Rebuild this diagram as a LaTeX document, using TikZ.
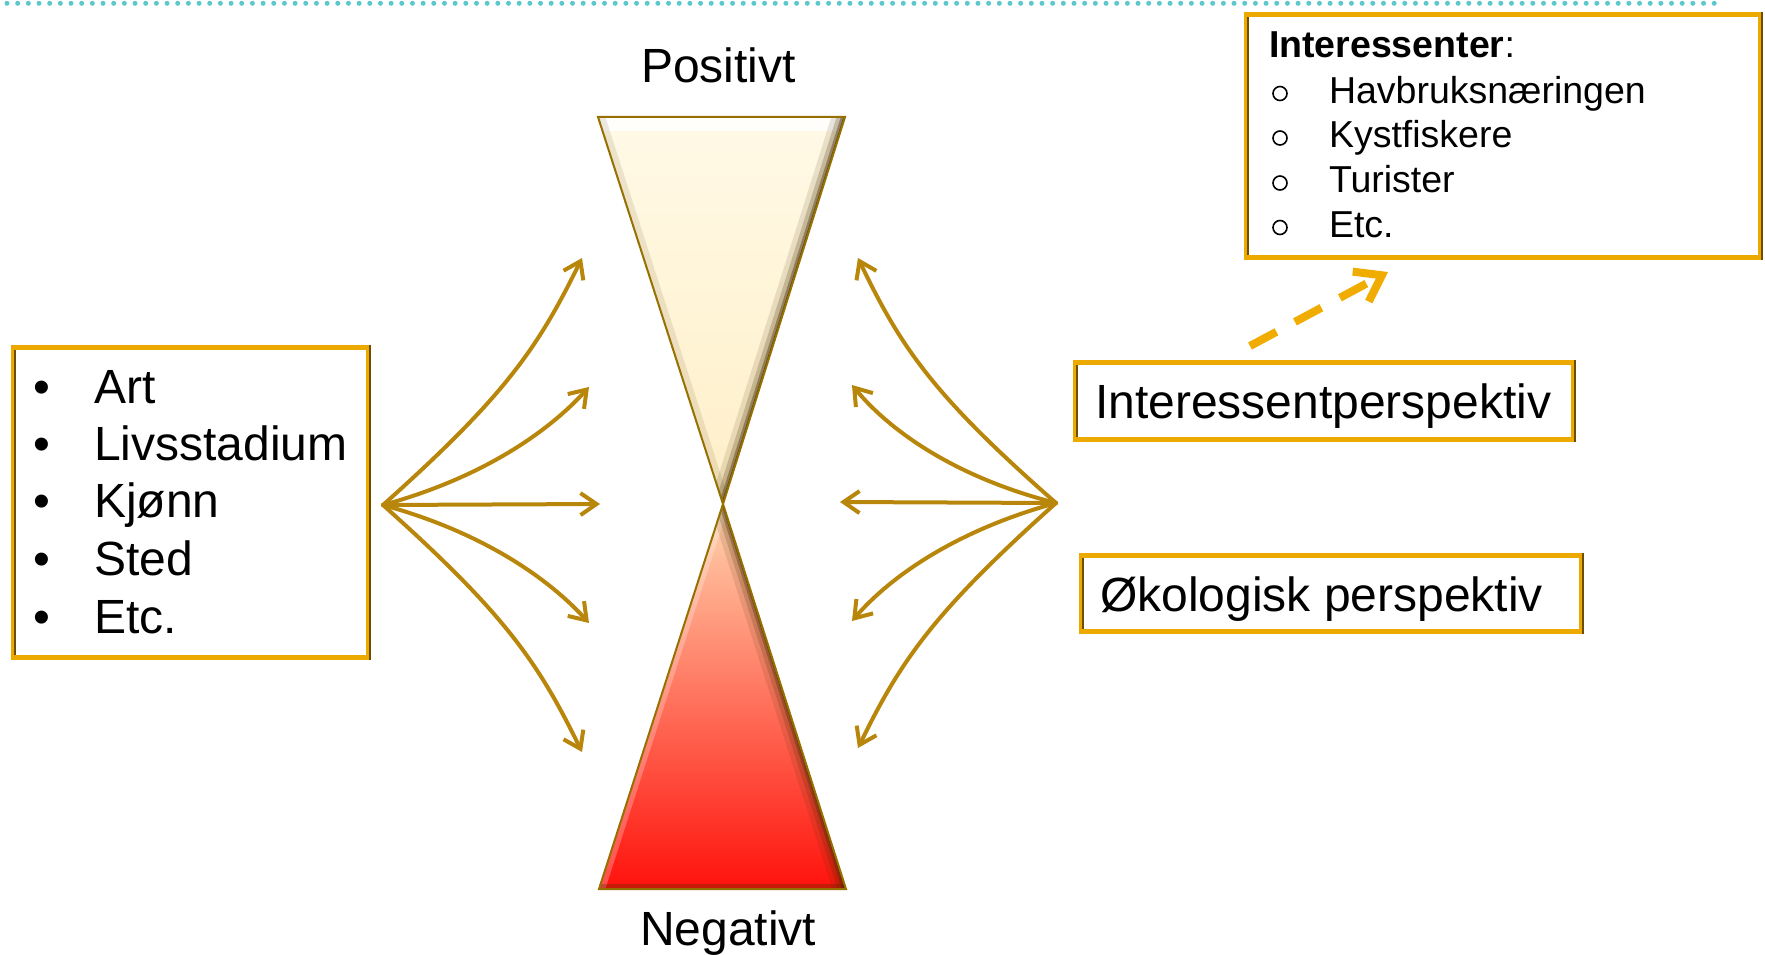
\documentclass[tikz,border=0pt]{standalone}
\usepackage{fontspec}
\setmainfont{Liberation Sans}
\usetikzlibrary{arrows.meta}
\definecolor{arrowgold}{RGB}{184,134,11}
\definecolor{boxgold}{RGB}{236,170,0}
\definecolor{boxdark}{RGB}{110,78,0}
\definecolor{dashgold}{RGB}{240,172,0}
\definecolor{dotteal}{RGB}{92,200,204}
\definecolor{triline}{RGB}{150,112,0}
\definecolor{creamtop}{RGB}{255,249,230}
\definecolor{creambot}{RGB}{255,239,200}
\definecolor{peach}{RGB}{255,214,176}
\definecolor{salmon}{RGB}{255,135,112}
\definecolor{redbase}{RGB}{255,18,12}
\definecolor{bevelbrown}{RGB}{70,45,0}
\newcommand\fsz[1]{\fontsize{#1}{#1}\selectfont}
\newcommand\bevelbox[1]{%
  \draw[boxdark, line width=2pt] ([shift={(1.5pt,-2.5pt)}]#1.north west) -- ([shift={(1.5pt,2.5pt)}]#1.south west);
  \draw[boxdark, line width=2pt] ([shift={(1.5pt,2.5pt)}]#1.north east) -- ([shift={(1.5pt,-2.5pt)}]#1.south east);}
\begin{document}
\begin{tikzpicture}[x=1pt,y=-1pt,
  goldbox/.style={draw=boxgold, line width=5pt, fill=white, inner sep=0pt, outer sep=0pt, anchor=north west},
  txt/.style={anchor=base west, inner sep=0pt, outer sep=0pt},
  ringbullet/.style={circle, draw=black, line width=1.6pt, minimum size=14pt, inner sep=0pt},
  fanarrow/.style={draw=arrowgold, line width=4pt, line cap=round, -{Straight Barb[length=16pt,width=22pt]}},
  dasharrow/.style={draw=dashgold, line width=8pt, dash pattern=on 30pt off 21pt, -{Straight Barb[length=24pt,width=34pt]}},
  trioutline/.style={draw=triline, line width=2pt, line join=miter}
]
\useasboundingbox (0,0) rectangle (1765,955);

% dotted rule at top
\draw[dotteal, line width=5pt, line cap=round, dash pattern=on 0pt off 10.67pt] (7,3.3) -- (1720,3.3);

% ---------- hourglass ----------
\coordinate (tA) at (598,117);
\coordinate (tB) at (845,117);
\coordinate (mid) at (723,504);
\coordinate (bA) at (599,889);
\coordinate (bB) at (846,889);

\shade[top color=creamtop, bottom color=creambot] (tA) -- (tB) -- (mid) -- cycle;
\begin{scope}
  \clip (tA) -- (tB) -- (mid) -- cycle;
  \draw[white, line width=28pt, opacity=0.85] (tA) -- (tB);
  \draw[bevelbrown, line width=26pt, opacity=0.12] (tB) -- (mid);
  \draw[bevelbrown, line width=16pt, opacity=0.22] (tB) -- (mid);
  \draw[bevelbrown, line width=8pt, opacity=0.4] (tB) -- (mid);
  \draw[bevelbrown, line width=3pt, opacity=0.7] (tB) -- (mid);
  \draw[bevelbrown, line width=14pt, opacity=0.1] (tA) -- (mid);
\end{scope}
\draw[trioutline] (tA) -- (tB) -- (mid) -- cycle;

\shade[top color=peach, middle color=salmon, bottom color=redbase] (mid) -- (bB) -- (bA) -- cycle;
\begin{scope}
  \clip (mid) -- (bB) -- (bA) -- cycle;
  \draw[white, line width=12pt, opacity=0.25] (bA) -- (mid);
  \draw[bevelbrown, line width=26pt, opacity=0.12] (mid) -- (bB);
  \draw[bevelbrown, line width=16pt, opacity=0.2] (mid) -- (bB);
  \draw[bevelbrown, line width=8pt, opacity=0.35] (mid) -- (bB);
  \draw[bevelbrown, line width=3pt, opacity=0.6] (mid) -- (bB);
  \draw[bevelbrown, line width=10pt, opacity=0.3] (bA) -- (bB);
\end{scope}
\draw[trioutline] (mid) -- (bB) -- (bA) -- cycle;

\node[txt, font=\fsz{48}] (pos) at (641,83) {Positivt};
\node[txt, font=\fsz{48}] (neg) at (640,945) {Negativt};

% ---------- left box ----------
\node[goldbox, minimum width=355pt, minimum height=310pt] (lbox) at (13,347) {};
\bevelbox{lbox}
\node[txt, font=\fsz{48}] (lb1) at (33,403) {•};
\node[txt, font=\fsz{48}] (lb2) at (33,460) {•};
\node[txt, font=\fsz{48}] (lb3) at (33,517) {•};
\node[txt, font=\fsz{48}] (lb4) at (33,575) {•};
\node[txt, font=\fsz{48}] (lb5) at (33,633) {•};
\node[txt, font=\fsz{48}] (li1) at (94,403) {Art};
\node[txt, font=\fsz{48}] (li2) at (94,460) {Livsstadium};
\node[txt, font=\fsz{48}] (li3) at (94,517) {Kjønn};
\node[txt, font=\fsz{48}] (li4) at (94,575) {Sted};
\node[txt, font=\fsz{48}] (li5) at (94,633) {Etc.};

% ---------- right boxes ----------
\node[goldbox, minimum width=498pt, minimum height=77pt] (ip) at (1075,362.5) {};
\bevelbox{ip}
\node[txt, font=\fsz{48}] (iptext) at (1095,418) {Interessentperspektiv};

\node[goldbox, minimum width=500pt, minimum height=76pt] (op) at (1081,555) {};
\bevelbox{op}
\node[txt, font=\fsz{48}] (optext) at (1100,611) {Økologisk perspektiv};

\node[goldbox, minimum width=514pt, minimum height=242pt] (ibox) at (1246,15) {};
\bevelbox{ibox}
\node[txt, font=\fsz{37.5}] (ihead) at (1269,58) {\textbf{Interessenter}:};
\node[ringbullet] (ib1) at (1280,93.5) {};
\node[ringbullet] (ib2) at (1280,138) {};
\node[ringbullet] (ib3) at (1280,183) {};
\node[ringbullet] (ib4) at (1280,227.5) {};
\node[txt, font=\fsz{37.5}] (ii1) at (1329,103.5) {Havbruksnæringen};
\node[txt, font=\fsz{37.5}] (ii2) at (1329,148) {Kystfiskere};
\node[txt, font=\fsz{37.5}] (ii3) at (1329,193) {Turister};
\node[txt, font=\fsz{37.5}] (ii4) at (1329,237.5) {Etc.};

% dashed arrow
\coordinate (dstart) at (1250,346);
\coordinate (dend) at (1388,272);
\draw[dasharrow] (dstart) -- (dend);

% ---------- fan arrows ----------
\coordinate (lfan) at (383,505);
\coordinate (lt1) at (582,258);
\coordinate (lt2) at (589,387);
\coordinate (lt3) at (600,504);
\coordinate (lt4) at (589,623);
\coordinate (lt5) at (582,752);
\draw[fanarrow] (lfan) .. controls (505,396) and (538,348) .. (lt1);
\draw[fanarrow] (lfan) .. controls (485,477) and (550,430) .. (lt2);
\draw[fanarrow] (lfan) -- (lt3);
\draw[fanarrow] (lfan) .. controls (485,533) and (550,580) .. (lt4);
\draw[fanarrow] (lfan) .. controls (505,614) and (538,662) .. (lt5);

\coordinate (rfan) at (1056,503);
\coordinate (rt1) at (858,258);
\coordinate (rt2) at (852,385);
\coordinate (rt3) at (840,502);
\coordinate (rt4) at (852,621);
\coordinate (rt5) at (858,748);
\draw[fanarrow] (rfan) .. controls (934,396) and (901,348) .. (rt1);
\draw[fanarrow] (rfan) .. controls (954,477) and (889,430) .. (rt2);
\draw[fanarrow] (rfan) -- (rt3);
\draw[fanarrow] (rfan) .. controls (954,531) and (889,578) .. (rt4);
\draw[fanarrow] (rfan) .. controls (934,612) and (901,660) .. (rt5);
\end{tikzpicture}
\end{document}
